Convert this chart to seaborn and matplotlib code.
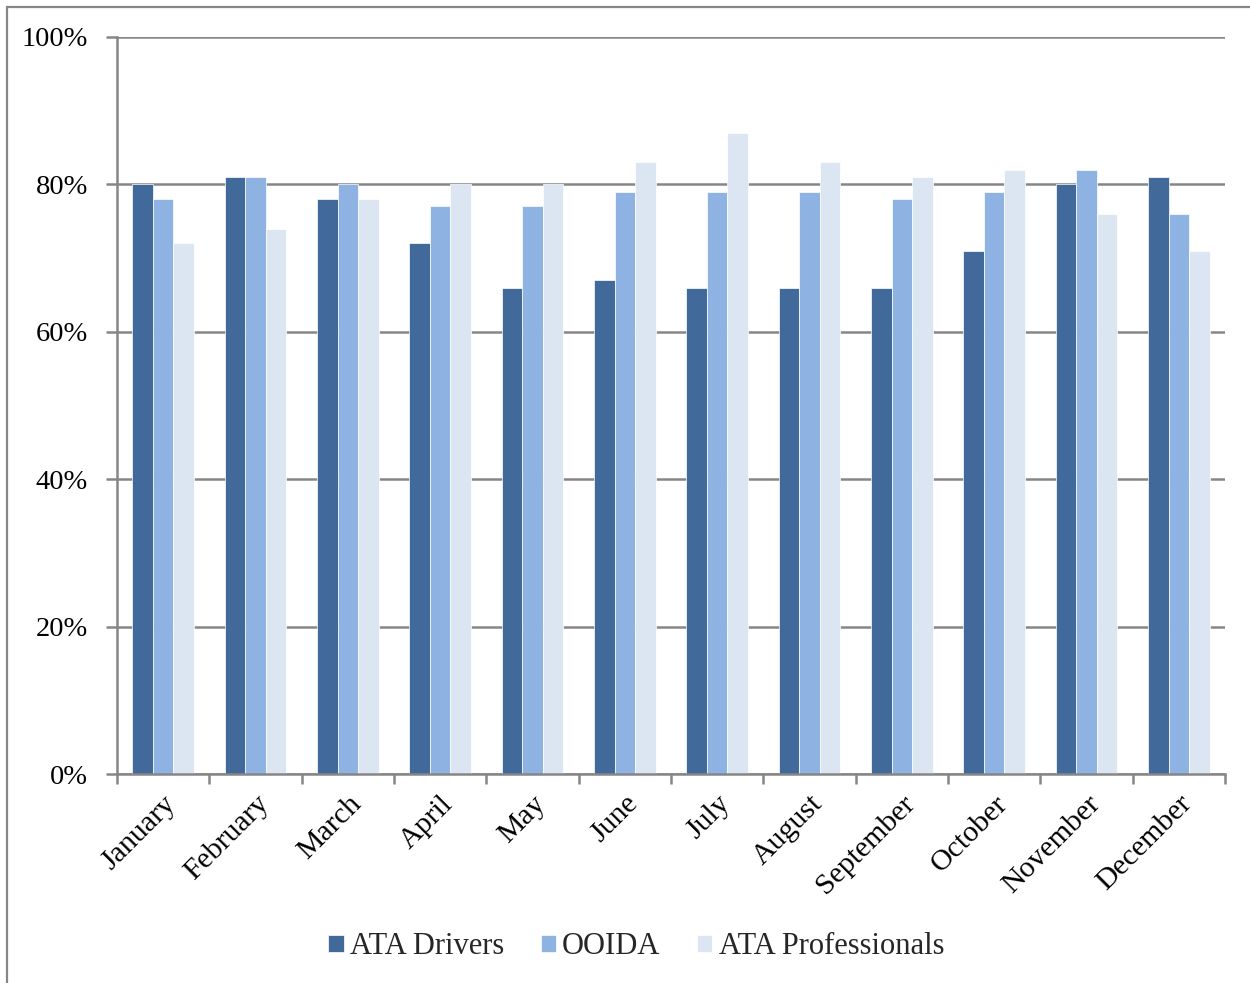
import pandas as pd
import seaborn as sns
import matplotlib.pyplot as plt
from matplotlib.patches import Rectangle
from matplotlib.ticker import FuncFormatter, MultipleLocator, FixedLocator

# Chart data (percent)
months = ['January', 'February', 'March', 'April', 'May', 'June',
          'July', 'August', 'September', 'October', 'November', 'December']
ata_drivers = [80, 81, 78, 72, 66, 67, 66, 66, 66, 71, 80, 81]
ooida = [78, 81, 80, 77, 77, 79, 79, 79, 78, 79, 82, 76]
ata_professionals = [72, 74, 78, 80, 80, 83, 87, 83, 81, 82, 76, 71]
series_names = ['ATA Drivers', 'OOIDA', 'ATA Professionals']
colors = ['#416A9B', '#8EB3E2', '#DCE6F2']

df = pd.DataFrame({'month': months,
                   'ATA Drivers': ata_drivers,
                   'OOIDA': ooida,
                   'ATA Professionals': ata_professionals})
long_df = df.melt(id_vars='month', var_name='series', value_name='value')

sns.set_style('white')
plt.rcParams['font.family'] = ['Liberation Serif', 'DejaVu Serif']

fig = plt.figure(figsize=(12.5, 9.83), dpi=100)
ax = fig.add_axes([0.0936, 0.2126, 0.8864, 0.7498])

sns.barplot(data=long_df, x='month', y='value', hue='series',
            hue_order=series_names, palette=colors, width=0.667,
            saturation=1, edgecolor='white', linewidth=0.5, ax=ax)

ax.set_ylim(0, 100)
ax.set_xlim(-0.5, 11.5)
ax.yaxis.set_major_locator(MultipleLocator(20))
ax.yaxis.set_major_formatter(FuncFormatter(lambda v, p: f'{int(v)}%'))
ax.grid(axis='y', color='#868686', linewidth=1.8)
ax.set_axisbelow(True)

for side in ['top', 'right']:
    ax.spines[side].set_visible(False)
for side in ['left', 'bottom']:
    ax.spines[side].set_color('#868686')
    ax.spines[side].set_linewidth(1.8)

ax.tick_params(axis='y', which='major', direction='out', length=8, width=1.8,
               color='#868686', labelsize=20.5, left=True, pad=13,
               labelcolor='black')
ax.tick_params(axis='x', which='major', length=0, labelsize=21.5, pad=12,
               labelcolor='black')
ax.xaxis.set_minor_locator(FixedLocator([i - 0.5 for i in range(13)]))
ax.tick_params(axis='x', which='minor', direction='out', length=7, width=1.8,
               color='#868686', bottom=True)
ax.set_xticks(range(len(months)))
ax.set_xticklabels(months, rotation=45, ha='right', rotation_mode='anchor')
ax.set_xlabel('')
ax.set_ylabel('')

leg = ax.legend(loc='center', bbox_to_anchor=(0.509, 0.037),
                bbox_transform=fig.transFigure, ncol=3, frameon=False,
                fontsize=22, handlelength=0.5, handleheight=0.5,
                handletextpad=0.2, columnspacing=1.2)

# partial outer frame as in the reference
fig.patches.append(Rectangle((0.0056, -0.05), 1.2, 1.0429, transform=fig.transFigure,
                             fill=False, edgecolor='#868686', linewidth=1.6))

fig.savefig('out.png', dpi=100)
